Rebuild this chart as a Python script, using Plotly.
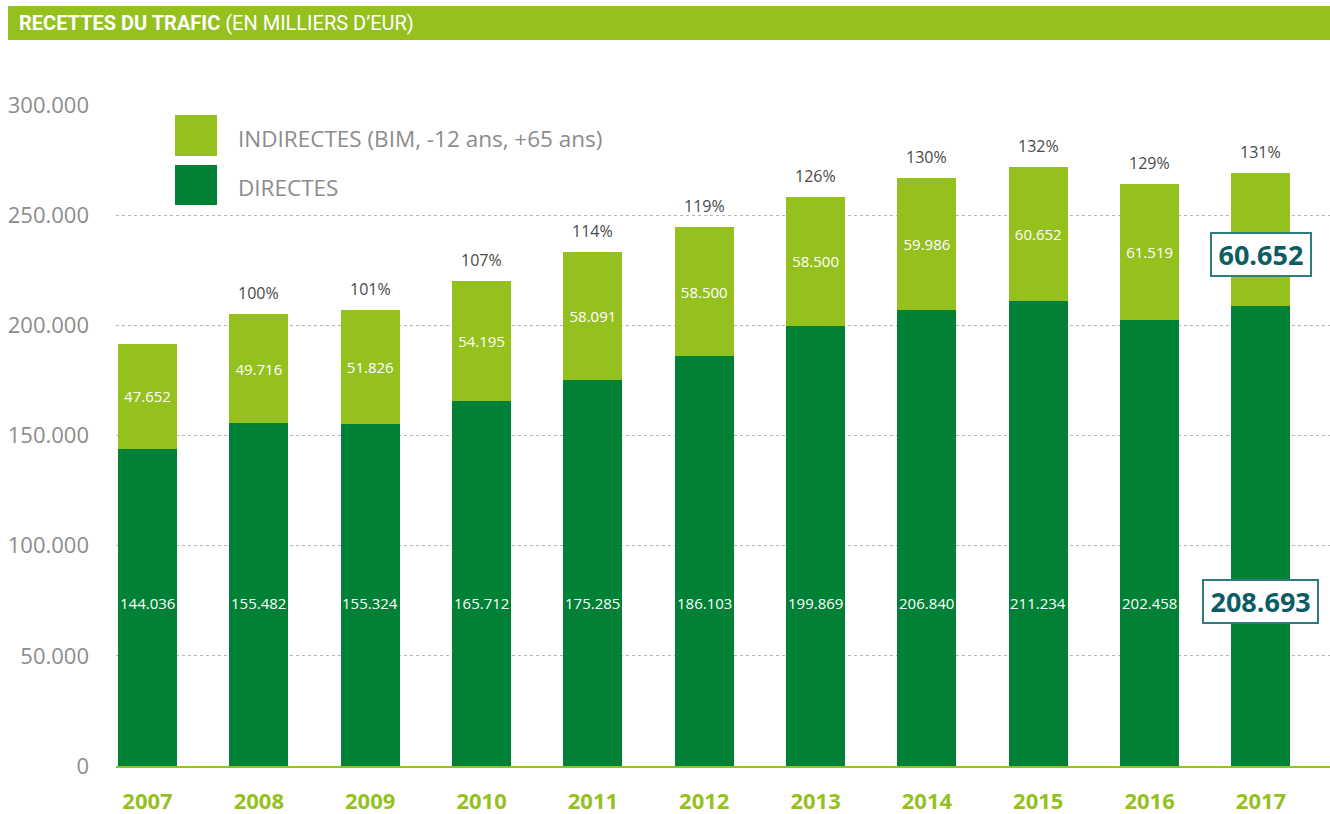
import plotly.graph_objects as go

# ---------------- data ----------------
years = ["2007", "2008", "2009", "2010", "2011", "2012", "2013", "2014", "2015", "2016", "2017"]
directes = [144036, 155482, 155324, 165712, 175285, 186103, 199869, 206840, 211234, 202458, 208693]
indirectes = [47652, 49716, 51826, 54195, 58091, 58500, 58500, 59986, 60652, 61519, 60652]
pourcentages = ["", "100%", "101%", "107%", "114%", "119%", "126%", "130%", "132%", "129%", "131%"]
y_ticks = [0, 50000, 100000, 150000, 200000, 250000, 300000]
y_ticklabels = ["0", "50.000", "100.000", "150.000", "200.000", "250.000", "300.000"]
highlight_year = "2017"
direct_label_level = 74000

LIGHT = "#95c11f"
DARK = "#008136"
TEAL = "#0d5c63"
GRAY = "#8c8c8c"
FONT = "Open Sans, Noto Sans, sans-serif"
TITLE_FONT = "Roboto, Open Sans, sans-serif"

W, H = 1330, 814
ML, MR, MT, MB = 116, 0, 105, 48
PW, PH = W - ML - MR, H - MT - MB


def px(x):
    return (x - ML) / PW


def py(y):
    return (H - MB - y) / PH


def fmt(v):
    return f"{v:,}".replace(",", ".")


fig = go.Figure()
fig.add_trace(go.Bar(
    x=years, y=directes, name="DIRECTES", marker_color=DARK, width=0.53,
    marker_line_width=0, hoverinfo="skip",
))
fig.add_trace(go.Bar(
    x=years, y=indirectes, name="INDIRECTES (BIM, -12 ans, +65 ans)", marker_color=LIGHT,
    width=0.53, marker_line_width=0, hoverinfo="skip",
    text=["" if yr == highlight_year else fmt(v) for yr, v in zip(years, indirectes)],
    textposition="inside", insidetextanchor="middle", textangle=0,
    textfont=dict(family=FONT, size=15, color="white"),
))

annotations = []
for idx, (yr, d, i, p) in enumerate(zip(years, directes, indirectes, pourcentages)):
    if p:
        annotations.append(dict(xref="x", yref="y", x=idx, y=d + i, text=p, showarrow=False,
                                yshift=21, font=dict(family=FONT, size=16, color="#4a4a4a")))
    if yr == highlight_year:
        box = dict(xref="x", yref="y", showarrow=False, bgcolor="white", bordercolor="#2e7b80",
                   borderwidth=2, borderpad=2, font=dict(family=FONT, size=27, color=TEAL))
        annotations.append(dict(x=idx, y=direct_label_level, yshift=1,
                                text="<b>\u2009" + fmt(d) + "\u2009</b>", **box))
        annotations.append(dict(x=idx, y=d + i / 2, yshift=-15,
                                text="<b>\u2009" + fmt(i) + "\u2009</b>", **box))
    else:
        annotations.append(dict(xref="x", yref="y", x=idx, y=direct_label_level, text=fmt(d),
                                showarrow=False, font=dict(family=FONT, size=15, color="white")))

shapes = [
    dict(type="rect", xref="paper", yref="paper", x0=px(8), x1=px(1330), y0=py(40), y1=py(6),
         fillcolor=LIGHT, line_width=0, layer="below"),
    dict(type="rect", xref="paper", yref="paper", x0=px(175), x1=px(217), y0=py(156), y1=py(115),
         fillcolor=LIGHT, line_width=0),
    dict(type="rect", xref="paper", yref="paper", x0=px(175), x1=px(217), y0=py(205), y1=py(165),
         fillcolor=DARK, line_width=0),
]
annotations.append(dict(
    xref="paper", yref="paper", x=px(17), y=py(23), xanchor="left", yanchor="middle",
    showarrow=False,
    text="<b>RECETTES DU TRAFIC</b> (EN MILLIERS D\u2019EUR)",
    font=dict(family=TITLE_FONT, size=20, color="white"),
))
annotations.append(dict(xref="paper", yref="paper", x=px(236), y=py(138), xanchor="left",
                        yanchor="middle", showarrow=False, text="INDIRECTES (BIM, -12 ans, +65 ans)",
                        font=dict(family=FONT, size=22.5, color=GRAY)))
annotations.append(dict(xref="paper", yref="paper", x=px(236), y=py(187), xanchor="left",
                        yanchor="middle", showarrow=False, text="DIRECTES",
                        font=dict(family=FONT, size=22.5, color=GRAY)))

fig.update_layout(
    barmode="stack",
    width=W, height=H,
    margin=dict(l=ML, r=MR, t=MT, b=MB, pad=0, autoexpand=False),
    paper_bgcolor="white", plot_bgcolor="white",
    showlegend=False,
    annotations=annotations,
    shapes=shapes,
    font=dict(family=FONT),
)
fig.update_xaxes(
    type="category", range=[-0.283, 10.62], automargin=False,
    showgrid=False, showline=True, linecolor=LIGHT, linewidth=2, layer="above traces",
    ticks="", ticklabelstandoff=15,
    tickfont=dict(family=FONT, size=22, color=LIGHT, weight="bold"),
)
fig.update_yaxes(
    range=[0, 300000], tickvals=y_ticks, ticktext=y_ticklabels, automargin=False,
    showgrid=True, gridcolor="#b5b5b5", gridwidth=1, griddash="dot",
    zeroline=False, showline=False, ticks="", ticklabelstandoff=26,
    tickfont=dict(family=FONT, size=22, color=GRAY),
)

fig.write_html("out.html", config={"displayModeBar": False},
               post_script="document.body.style.margin='0';")
